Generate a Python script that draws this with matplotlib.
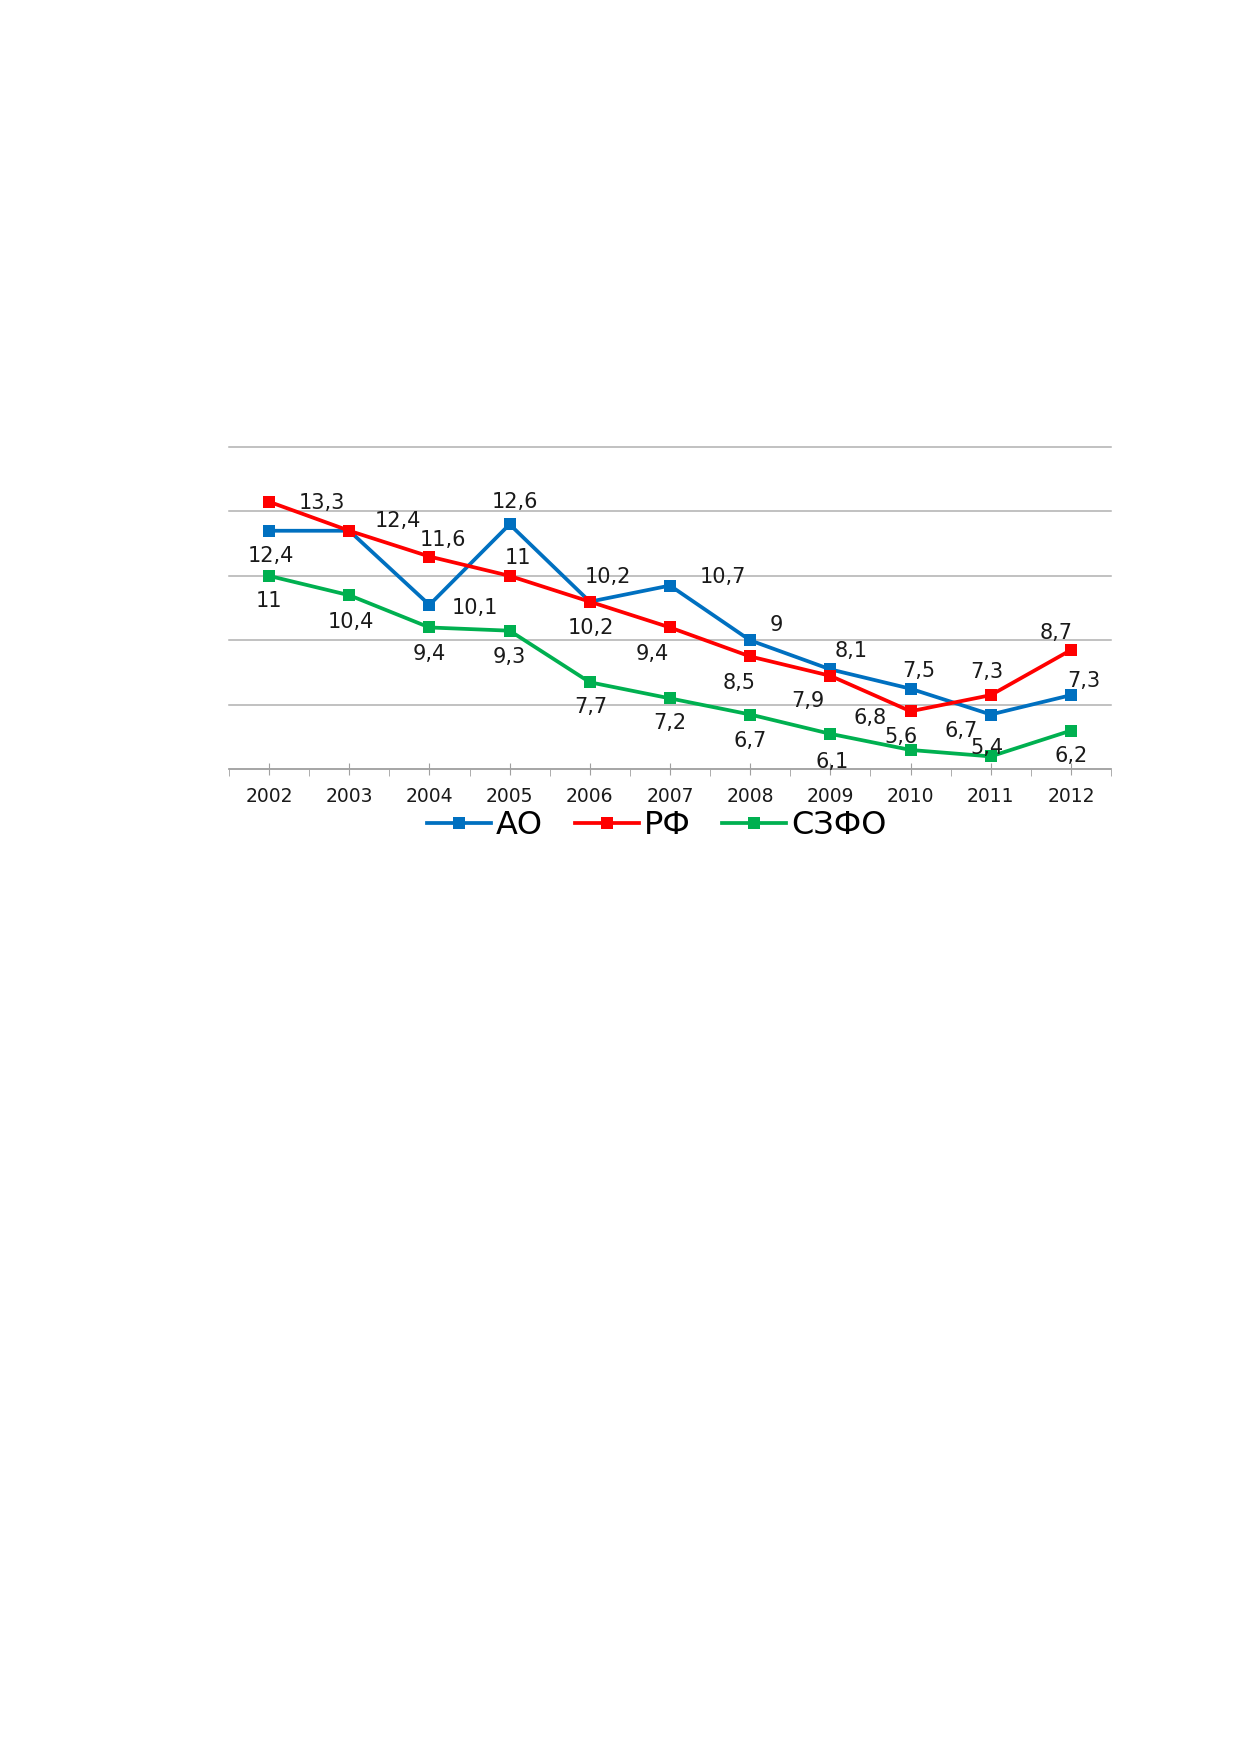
import matplotlib
matplotlib.use("Agg")
import matplotlib.pyplot as plt
import numpy as np

years = ["2002", "2003", "2004", "2005", "2006", "2007", "2008", "2009", "2010", "2011", "2012"]
ao = [12.4, 12.4, 10.1, 12.6, 10.2, 10.7, 9.0, 8.1, 7.5, 6.7, 7.3]
rf = [13.3, 12.4, 11.6, 11.0, 10.2, 9.4, 8.5, 7.9, 6.8, 7.3, 8.7]
szfo = [11.0, 10.4, 9.4, 9.3, 7.7, 7.2, 6.7, 6.1, 5.6, 5.4, 6.2]
names = ["АО", "РФ", "СЗФО"]
grid_vals = [5, 7, 9, 11, 13, 15]

# where each data label sits relative to its point (offset points), None = hidden
ao_off = [(1.6, -18), None, (33, -2), (4, 16), (13, 18), (38, 6), (19, 11),
          (15, 13), (6, 13), (-21, -12), (9, 10)]
rf_off = [(38, -1), (35, 7), (10, 12), (6, 13), (1, -19), (-13, -19), (-8, -19),
          (-16, -18), (-29, -5), (-3, 17), (-11, 12)]
szfo_off = [(0, -18), (1, -19), (0, -19), (0, -19), (1, -18), (0, -18), (0, -19),
            (1, -20), (-7, 9), (-3, 6), (0, -18)]

colors = ["#0070C0", "#FF0000", "#00B050"]

plt.rcParams['font.family'] = ['DejaVu Sans']

fig = plt.figure(figsize=(12.39, 17.52), dpi=100)
ax = fig.add_axes([0.1848, 0.5609, 0.7119, 0.184])

x = np.arange(len(years))
for vals, offs, col, name in zip([ao, rf, szfo], [ao_off, rf_off, szfo_off], colors, names):
    ax.plot(x, vals, color=col, lw=2.7, marker='s', markersize=8.5,
            markeredgewidth=0, label=name, zorder=3)
    for xi, v, o in zip(x, vals, offs):
        if o is None:
            continue
        ax.annotate(f"{v:g}".replace(".", ","), (xi, v), xytext=o,
                    textcoords='offset points', ha='center', va='center',
                    fontsize=15, color='#1a1a1a', zorder=4)

ax.set_xlim(-0.5, len(years) - 0.5)
ax.set_ylim(5, 15)
ax.set_yticks(grid_vals)
ax.grid(axis='y', color='#B0B0B0', lw=1.1)
for gl in ax.get_ygridlines():
    gl.set_clip_on(False)
ax.set_axisbelow(True)
for s in ['top', 'right', 'left']:
    ax.spines[s].set_visible(False)
ax.spines['bottom'].set_color('#A0A0A0')
ax.spines['bottom'].set_linewidth(1.1)
ax.tick_params(axis='y', left=False, labelleft=False)

ax.set_xticks(x)
ax.set_xticklabels(years, fontsize=13.5, color='#1a1a1a')
ax.set_xticks(np.arange(-0.5, len(years)), minor=True)
ax.tick_params(axis='x', which='major', direction='inout', length=9, color='#A0A0A0', pad=8)
ax.tick_params(axis='x', which='minor', direction='out', length=5, color='#A0A0A0')

fig.legend(loc='center', bbox_to_anchor=(0.53, 0.529), ncol=3, frameon=False,
           fontsize=23, handlelength=2.0, handletextpad=0.15, columnspacing=1.0)

fig.savefig("out.png", dpi=100, facecolor='white')
